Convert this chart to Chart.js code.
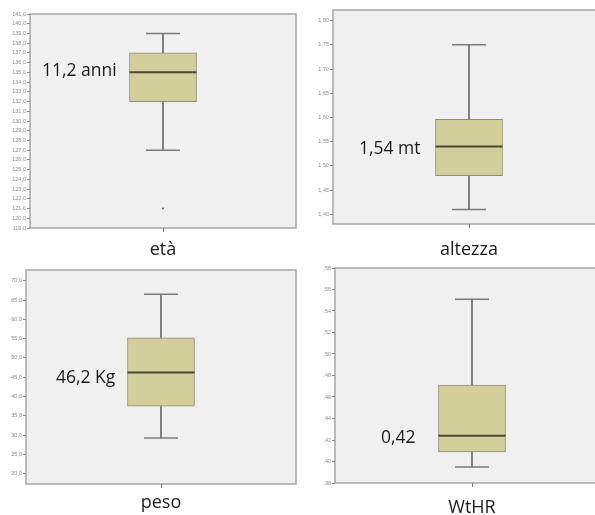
<!DOCTYPE html>
<html>
<head>
<meta charset="utf-8">
<script src="https://cdn.jsdelivr.net/npm/chart.js@4.4.1/dist/chart.umd.min.js"></script>
<style>
  body { margin: 0; background: #fff; width: 595px; height: 515px; overflow: hidden; position: relative; font-family: "Open Sans", sans-serif; }
  canvas { position: absolute; }
  .note { position: absolute; font-size: 17.5px; line-height: 20px; color: #1a1a1a; white-space: nowrap; }
</style>
</head>
<body>
<canvas id="etaChart" width="300" height="260" style="left:0;top:0"></canvas>
<canvas id="altezzaChart" width="310" height="260" style="left:300px;top:0"></canvas>
<canvas id="pesoChart" width="300" height="255" style="left:0;top:260px"></canvas>
<canvas id="wthrChart" width="310" height="255" style="left:300px;top:260px"></canvas>

<div class="note" style="left:42px;top:59px">11,2 anni</div>
<div class="note" style="left:359px;top:137px">1,54 mt</div>
<div class="note" style="left:56px;top:366px">46,2 Kg</div>
<div class="note" style="left:381px;top:426px">0,42</div>

<script>
/* ================= DATA ================= */
// each box: [min, Q1, median, Q3, max]
const etaStats = [127, 132, 135, 137, 139];
const etaOutliers = [121];
const etaTicks = [119, 120, 121, 122, 123, 124, 125, 126, 127, 128, 129, 130,
                  131, 132, 133, 134, 135, 136, 137, 138, 139, 140, 141];

const altezzaStats = [1.41, 1.48, 1.54, 1.596, 1.75];
const altezzaTicks = [1.40, 1.45, 1.50, 1.55, 1.60, 1.65, 1.70, 1.75, 1.80];

const pesoStats = [29.2, 37.5, 46.2, 55.2, 66.5];
const pesoTicks = [20, 25, 30, 35, 40, 45, 50, 55, 60, 65, 70];

const wthrStats = [0.395, 0.409, 0.424, 0.471, 0.551];
const wthrTicks = [0.38, 0.40, 0.42, 0.44, 0.46, 0.48, 0.50, 0.52, 0.54, 0.56, 0.58];

/* ================= STYLE ================= */
const BOX_FILL = "#d3cf9b";
const BOX_EDGE = "#8e8c74";
const WHISKER = "#7d7d7d";
const MEDIAN = "#4a4832";

const panelBg = {
  id: "panelBg",
  beforeDraw(chart) {
    const a = chart.chartArea, ctx = chart.ctx;
    ctx.save();
    ctx.fillStyle = "#f0f0f0";
    ctx.fillRect(a.left, a.top, a.right - a.left, a.bottom - a.top);
    ctx.strokeStyle = "#a6a6a6";
    ctx.lineWidth = 1.5;
    ctx.strokeRect(a.left, a.top, a.right - a.left, a.bottom - a.top);
    ctx.restore();
  }
};

function boxChart(id, label, stats, outliers, ticks, yMin, yMax, fmt, g) {
  const [mn, q1, med, q3, mx] = stats;
  const datasets = [
    { type: "bar", data: [[q1, q3]], backgroundColor: BOX_FILL, borderColor: BOX_EDGE,
      borderWidth: 1, borderSkipped: false, barThickness: 67, grouped: false, order: 3 },
    { type: "bar", data: [[mn, q1]], backgroundColor: WHISKER, borderWidth: 0,
      barThickness: 1.3, grouped: false, order: 4 },
    { type: "bar", data: [[q3, mx]], backgroundColor: WHISKER, borderWidth: 0,
      barThickness: 1.3, grouped: false, order: 4 },
    { type: "line", data: [mn], showLine: false, pointStyle: "line", pointRadius: 17,
      pointBorderColor: WHISKER, pointBorderWidth: 1.5, order: 2 },
    { type: "line", data: [mx], showLine: false, pointStyle: "line", pointRadius: 17,
      pointBorderColor: WHISKER, pointBorderWidth: 1.5, order: 2 },
    { type: "line", data: [med], showLine: false, pointStyle: "line", pointRadius: 33.5,
      pointBorderColor: MEDIAN, pointBorderWidth: 2, order: 1 }
  ];
  outliers.forEach(v => datasets.push({
    type: "line", data: [v], showLine: false, pointStyle: "circle", pointRadius: 1,
    pointBackgroundColor: "#555", pointBorderColor: "#555", pointBorderWidth: 0, order: 1
  }));

  new Chart(document.getElementById(id), {
    type: "bar",
    data: { labels: [label], datasets: datasets },
    plugins: [panelBg],
    options: {
      responsive: false,
      animation: false,
      events: [],
      layout: { autoPadding: false, padding: { top: g.top, right: g.right, left: 0, bottom: 0 } },
      plugins: { legend: { display: false }, tooltip: { enabled: false } },
      scales: {
        x: {
          offset: true,
          afterFit: s => { s.height = g.axisH; },
          grid: { offset: false, drawOnChartArea: false, tickLength: 4, color: "#777" },
          border: { display: false },
          ticks: { color: "#1a1a1a", padding: g.pad, font: { family: "Open Sans", size: 18 } }
        },
        y: {
          min: yMin,
          max: yMax,
          afterFit: s => { s.width = g.left; },
          afterBuildTicks: s => { s.ticks = ticks.map(v => ({ value: v })); },
          grid: { drawOnChartArea: false, tickLength: 3, color: "#888" },
          border: { display: false },
          ticks: { color: "#8a8a8a", padding: 1, font: { family: "Liberation Sans", size: 5.5 },
                   callback: v => fmt(v) }
        }
      }
    }
  });
}

/* ================= PANELS ================= */
boxChart("etaChart", "età", etaStats, etaOutliers, etaTicks, 119, 141,
  v => v.toFixed(1).replace(".", ","), { left: 30, top: 14, right: 4, axisH: 32, pad: 7 });

boxChart("altezzaChart", "altezza", altezzaStats, [], altezzaTicks, 1.38, 1.822,
  v => v.toFixed(2).replace(".", ","), { left: 33, top: 10, right: 5, axisH: 36, pad: 11 });

boxChart("pesoChart", "peso", pesoStats, [], pesoTicks, 17.3, 72.8,
  v => v.toFixed(1).replace(".", ","), { left: 26, top: 10, right: 4, axisH: 31, pad: 4 });

boxChart("wthrChart", "WtHR", wthrStats, [], wthrTicks, 0.38, 0.58,
  v => v.toFixed(2).replace("0.", ","), { left: 35, top: 8, right: 1, axisH: 32, pad: 10 });
</script>
</body>
</html>
